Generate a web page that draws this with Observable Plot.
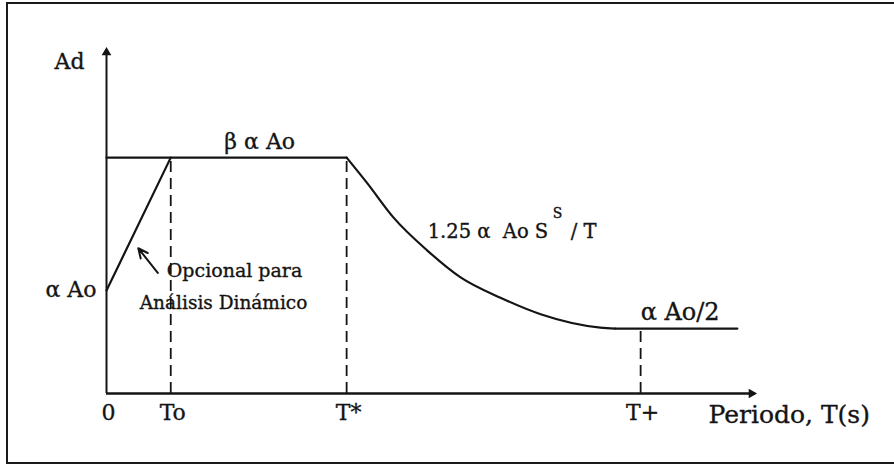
<!DOCTYPE html>
<html>
<head>
<meta charset="utf-8">
<script src="https://cdn.jsdelivr.net/npm/d3@7"></script>
<script src="https://cdn.jsdelivr.net/npm/@observablehq/plot@0.6"></script>
<style>
  html, body { margin: 0; padding: 0; background: #fff; }
  #wrap { position: relative; width: 894px; height: 468px; overflow: hidden; }
  #frame { position: absolute; left: 6px; top: 2px; width: 900px; height: 462px; border: 2px solid #1a1a1a; box-sizing: border-box; }
  #chart { position: absolute; left: 0; top: 0; }
  #chart text { paint-order: stroke; }
</style>
</head>
<body>
<div id="wrap"><div id="frame"></div><div id="chart"></div></div>
<script>
// Axis extents (period T, spectral acceleration Ad) in arbitrary sketch units
const axisEnds = [10, 3.33];

// Key periods and their tick labels
const tickNames = ["0", "To", "T*", "T+"];
const tickPeriods = [0, 0.99, 3.7, 8.23];

// Spectrum levels
const levelNames = ["α Ao", "β α Ao", "α Ao/2"];
const levelValues = [1, 2.29, 0.63];

// Optional ramp (dynamic analysis)
const rampT = [0, 0.99];
const rampAd = [1, 2.29];

// Plateau
const plateauT = [0, 3.7];
const plateauAd = [2.29, 2.29];

// Descending branch 1.25 α Ao S^S / T
const decayT = [3.7, 4.02, 4.42, 4.94, 5.45, 6.07, 6.69, 7.61, 7.84];
const decayAd = [2.29, 2.04, 1.71, 1.39, 1.13, 0.93, 0.77, 0.64, 0.63];

// Tail α Ao / 2
const tailT = [7.84, 9.72];
const tailAd = [0.63, 0.63];

// Dashed guides: at To, T*, T+
const guideT = [0.99, 3.7, 8.23];
const guideAd = [2.29, 2.29, 0.63];

// Annotation arrow (from note to ramp)
const noteArrowT = [0.79, 0.49];
const noteArrowAd = [1.17, 1.41];

const zip = (xs, ys) => xs.map((x, i) => ({T: x, Ad: ys[i]}));
const ink = "#141414";
const font = "DejaVu Serif";
const heavy = {fill: ink, stroke: ink, strokeWidth: 0.35};

const ramp = zip(rampT, rampAd);
const plateau = zip(plateauT, plateauAd);
const decay = zip(decayT, decayAd);
const tail = zip(tailT, tailAd);
const guides = zip(guideT, guideAd);
const ticks = tickPeriods.map((t, i) => ({T: t, name: tickNames[i]}));
const [Tmax, Admax] = axisEnds;
const [To, Tstar, Tplus] = guideT;
const [aAo, plat, tailLev] = levelValues;

const chart = Plot.plot({
  width: 894,
  height: 468,
  marginLeft: 106,
  marginRight: 139,
  marginTop: 50,
  marginBottom: 75,
  x: {domain: [0, Tmax], axis: null},
  y: {domain: [0, Admax], axis: null},
  style: {fontFamily: font, background: "transparent", color: ink},
  marks: [
    // axes
    Plot.ruleX([0], {y1: 0, y2: Admax, stroke: ink, strokeWidth: 2}),
    Plot.ruleY([0], {x1: 0, x2: Tmax, stroke: ink, strokeWidth: 2.4}),
    Plot.dot([{T: 0, Ad: Admax}], {x: "T", y: "Ad", symbol: "triangle", r: 3.6, fill: ink, stroke: "none", dy: 2}),
    Plot.dot([{T: Tmax, Ad: 0}], {x: "T", y: "Ad", symbol: "triangle", r: 3.6, fill: ink, stroke: "none", rotate: 90, dx: -4}),
    // dashed guides
    Plot.ruleX(guides, {x: "T", y1: 0, y2: "Ad", stroke: ink, strokeWidth: 1.8, strokeDasharray: "11,6"}),
    // spectrum
    Plot.line(ramp, {x: "T", y: "Ad", stroke: ink, strokeWidth: 2.2}),
    Plot.line(plateau, {x: "T", y: "Ad", stroke: ink, strokeWidth: 2.2}),
    Plot.line(decay, {x: "T", y: "Ad", stroke: ink, strokeWidth: 2.2, curve: "monotone-x"}),
    Plot.line(tail, {x: "T", y: "Ad", stroke: ink, strokeWidth: 2.2}),
    // note arrow
    Plot.arrow([0], {x1: () => noteArrowT[0], y1: () => noteArrowAd[0], x2: () => noteArrowT[1], y2: () => noteArrowAd[1], stroke: ink, strokeWidth: 2, headLength: 9, headAngle: 50}),
    // axis titles
    Plot.text(["Ad"], {x: 0, y: Admax, text: d => d, textAnchor: "end", dx: -22, dy: 11, fontSize: 22, ...heavy}),
    Plot.text(["Periodo, T(s)"], {x: Tmax, y: 0, text: d => d, textAnchor: "start", dx: -47, dy: 21, fontSize: 25, ...heavy}),
    // tick labels
    Plot.text(ticks, {x: "T", y: 0, text: "name", dy: 19, dx: 2, fontSize: 22, ...heavy}),
    // level labels
    Plot.text([levelNames[0]], {x: 0, y: aAo, text: d => d, textAnchor: "end", dx: -10, dy: -1, fontSize: 22, ...heavy}),
    Plot.text([levelNames[1]], {x: (To + Tstar) / 2, y: plat, text: d => d, dx: 1, dy: -16, fontSize: 22, ...heavy}),
    Plot.text([levelNames[2]], {x: Tplus, y: tailLev, text: d => d, textAnchor: "start", dx: 0, dy: -16, fontSize: 24, ...heavy}),
    // note
    Plot.text(["Opcional para"], {x: To, y: aAo, text: d => d, textAnchor: "start", dx: -4, dy: -20, fontSize: 19, ...heavy}),
    Plot.text(["Análisis Dinámico"], {x: To, y: aAo, text: d => d, textAnchor: "start", dx: -31, dy: 13, fontSize: 18.5, ...heavy}),
    // descending branch formula
    Plot.text(["1.25 α  Ao S"], {x: Tstar, y: plat, text: d => d, textAnchor: "start", dx: 81, dy: 74, fontSize: 19.5, ...heavy}),
    Plot.text(["S"], {x: Tstar, y: plat, text: d => d, textAnchor: "start", dx: 206, dy: 56, fontSize: 14, ...heavy}),
    Plot.text(["/ T"], {x: Tstar, y: plat, text: d => d, textAnchor: "start", dx: 224, dy: 74, fontSize: 19.5, ...heavy})
  ]
});
document.getElementById("chart").appendChild(chart);
</script>
</body>
</html>
